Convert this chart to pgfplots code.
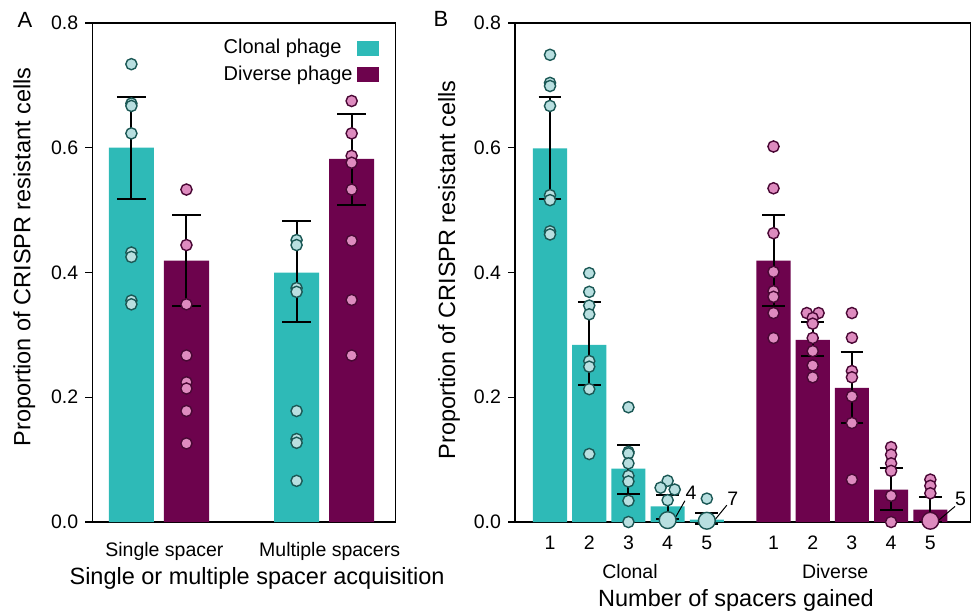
\documentclass[border=0pt]{standalone}
\usepackage{fontspec}
\setmainfont{Liberation Sans}
\usepackage{pgfplots}
\pgfplotsset{compat=1.18}
\definecolor{cbar}{HTML}{2EBAB7}
\definecolor{cfill}{HTML}{B8DFE0}
\definecolor{cedge}{HTML}{1B5855}
\definecolor{dbar}{HTML}{6D034D}
\definecolor{dfill}{HTML}{DE8BBF}
\definecolor{dedge}{HTML}{4A0835}
\newcommand{\tickfont}{\fontsize{9.75}{11}\selectfont}
\newcommand{\labfont}{\fontsize{11.75}{14}\selectfont}
\pgfplotsset{
  common/.style={
    scale only axis, height=249.5pt, ymin=0, ymax=0.8,
    clip=false,
    axis line style={line width=0.7pt, black},
    ytick={0,0.2,0.4,0.6,0.8},
    yticklabel style={/pgf/number format/fixed, /pgf/number format/fixed zerofill, /pgf/number format/precision=1},
    /pgf/number format/assume math mode=true,
    tick align=outside, major tick length=3.5pt,
    y tick style={line width=0.7pt, black},
    x tick style={draw=none},
    ytick pos=left,
    tick label style={font=\tickfont},
    label style={font=\labfont},
  },
  cpts/.style={only marks, mark=*, mark size=2.8pt, mark options={fill=cfill, draw=cedge, line width=0.7pt}, forget plot},
  dpts/.style={only marks, mark=*, mark size=2.8pt, mark options={fill=dfill, draw=dedge, line width=0.7pt}, forget plot},
  cbig/.style={only marks, mark=*, mark size=4.2pt, mark options={fill=cfill, draw=cedge, line width=0.7pt}, forget plot},
  dbig/.style={only marks, mark=*, mark size=4.2pt, mark options={fill=dfill, draw=dedge, line width=0.7pt}, forget plot},
  errs/.style={draw=none, mark=none, forget plot,
    error bars/.cd, y dir=both, y explicit,
    error bar style={draw=black, line width=1pt, solid},
    error mark=-,
    error mark options={rotate=90, draw=black, line width=1pt, mark size=#1}},
}
\begin{document}
\begin{tikzpicture}
\path[use as bounding box] (0,0) rectangle (486.5pt,305.5pt);
\node[font=\fontsize{11}{13}\selectfont] at (12.5pt,295.75pt) {A};
\node[font=\fontsize{11}{13}\selectfont] at (220.5pt,296.25pt) {B};
% ---------------- Panel A
\begin{axis}[common,
  at={(46.15pt,44.5pt)}, anchor=south west, width=151.7pt,
  xmin=-0.71, xmax=4.80,
  xtick={0.6,3.6}, xticklabels={Single spacer, Multiple spacers},
  xticklabel style={yshift=-3pt},
  xlabel={Single or multiple spacer acquisition},
  xlabel style={at={(axis description cs:0.543,0)}, anchor=center, yshift=-28pt},
  ylabel={Proportion of CRISPR resistant cells},
  ylabel style={at={(axis description cs:-0.224,0.531)}, anchor=center},
  legend plot pos=right,
  legend cell align=left,
  legend style={at={(axis description cs:0.945,0.976)}, anchor=north east, draw=none, fill=none, inner sep=0pt, font=\fontsize{10}{11}\selectfont, row sep=0.5pt},
  legend image code/.code={\fill[#1] (0pt,-3.75pt) rectangle (11pt,3.75pt);},
]
\addplot[ybar, bar width=0.82, bar shift=0pt, fill=cbar, draw=none] coordinates {(0,0.600) (3,0.400)};
\addlegendentry{Clonal phage}
\addplot[ybar, bar width=0.82, bar shift=0pt, fill=dbar, draw=none] coordinates {(1,0.419) (4,0.582)};
\addlegendentry{Diverse phage}
\addplot[cpts] coordinates {(0,0.734) (0,0.671) (0,0.667) (0,0.623) (0,0.432) (0,0.425) (0,0.355) (0,0.349)
  (3,0.452) (3,0.444) (3,0.375) (3,0.369) (3,0.178) (3,0.133) (3,0.127) (3,0.066)};
\addplot[dpts] coordinates {(1,0.533) (1,0.444) (1,0.349) (1,0.267) (1,0.224) (1,0.214) (1,0.178) (1,0.126)
  (4,0.675) (4,0.623) (4,0.587) (4,0.576) (4,0.533) (4,0.451) (4,0.356) (4,0.267)};
\addplot[errs=7.2pt] coordinates {
  (0,0.600) += (0,0.081) -= (0,0.082)
  (1,0.419) += (0,0.073) -= (0,0.072)
  (3,0.400) += (0,0.083) -= (0,0.080)
  (4,0.582) += (0,0.072) -= (0,0.073)};
\end{axis}
% ---------------- Panel B
\begin{axis}[common,
  at={(257.5pt,44.5pt)}, anchor=south west, width=227.85pt,
  xmin=0.107, xmax=11.73,
  xtick={1,2,3,4,5,6.7,7.7,8.7,9.7,10.7}, xticklabels={1,2,3,4,5,1,2,3,4,5},
  xlabel={Number of spacers gained},
  xlabel style={at={(axis description cs:0.485,0)}, anchor=center, yshift=-39pt},
  ylabel={Proportion of CRISPR resistant cells},
  ylabel style={at={(axis description cs:-0.145,0.505)}, anchor=center},
]
\addplot[ybar, bar width=0.87, bar shift=0pt, fill=cbar, draw=none, forget plot] coordinates {(1,0.599) (2,0.284) (3,0.0856) (4,0.025) (5,0.004)};
\addplot[ybar, bar width=0.87, bar shift=0pt, fill=dbar, draw=none, forget plot] coordinates {(6.7,0.419) (7.7,0.292) (8.7,0.215) (9.7,0.052) (10.7,0.020)};
\addplot[cpts] coordinates {
  (1,0.749) (1,0.704) (1,0.699) (1,0.667) (1,0.524) (1,0.516) (1,0.466) (1,0.461)
  (2,0.399) (2,0.369) (2,0.347) (2,0.333) (2,0.258) (2,0.249) (2,0.213) (2,0.109)
  (3,0.184) (3,0.1125) (3,0.110) (3,0.094) (3,0.074) (3,0.065) (3,0.034) (3,0)
  (4,0.066) (3.82,0.055) (4.18,0.052) (4,0.035)
  (5,0.0375)};
\addplot[cbig] coordinates {(4,0.003) (5,0.002)};
\addplot[dpts] coordinates {
  (6.7,0.602) (6.7,0.535) (6.7,0.463) (6.7,0.401) (6.7,0.370) (6.7,0.361) (6.7,0.335) (6.7,0.295)
  (7.55,0.335) (7.85,0.335) (7.7,0.327) (7.7,0.318) (7.7,0.295) (7.7,0.274) (7.7,0.251) (7.7,0.232)
  (8.7,0.335) (8.7,0.2955) (8.7,0.242) (8.7,0.232) (8.7,0.2014) (8.7,0.1587) (8.7,0.0679)
  (9.7,0.120) (9.7,0.108) (9.7,0.094) (9.7,0.082) (9.7,0.042) (9.7,0)
  (10.7,0.068) (10.7,0.058) (10.7,0.046)};
\addplot[dbig] coordinates {(10.7,0.002)};
\addplot[errs=5.7pt] coordinates {
  (1,0.599) += (0,0.082) -= (0,0.081)
  (2,0.284) += (0,0.068) -= (0,0.065)
  (3,0.0856) += (0,0.038) -= (0,0.040)
  (4,0.025) += (0,0.019) -= (0,0.020)
  (5,0.004) += (0,0.0105) -= (0,0.007)
  (6.7,0.419) += (0,0.0725) -= (0,0.073)
  (7.7,0.292) += (0,0.0286) -= (0,0.0265)
  (8.7,0.215) += (0,0.057) -= (0,0.056)
  (9.7,0.052) += (0,0.035) -= (0,0.033)
  (10.7,0.020) += (0,0.020) -= (0,0.020)};
\draw[line width=0.5pt] (axis cs:4.16,0.003) -- (axis cs:4.44,0.034);
\node[font=\tickfont] at (axis cs:4.6,0.047) {4};
\draw[line width=0.5pt] (axis cs:5.16,0.0) -- (axis cs:5.51,0.027);
\node[font=\tickfont] at (axis cs:5.66,0.037) {7};
\draw[line width=0.5pt] (axis cs:10.86,0.0) -- (axis cs:11.33,0.025);
\node[font=\tickfont] at (axis cs:11.47,0.037) {5};
\node[font=\tickfont] at (axis cs:3.04,0) [yshift=-25pt] {Clonal};
\node[font=\tickfont] at (axis cs:8.27,0) [yshift=-25pt] {Diverse};
\end{axis}
\end{tikzpicture}
\end{document}
